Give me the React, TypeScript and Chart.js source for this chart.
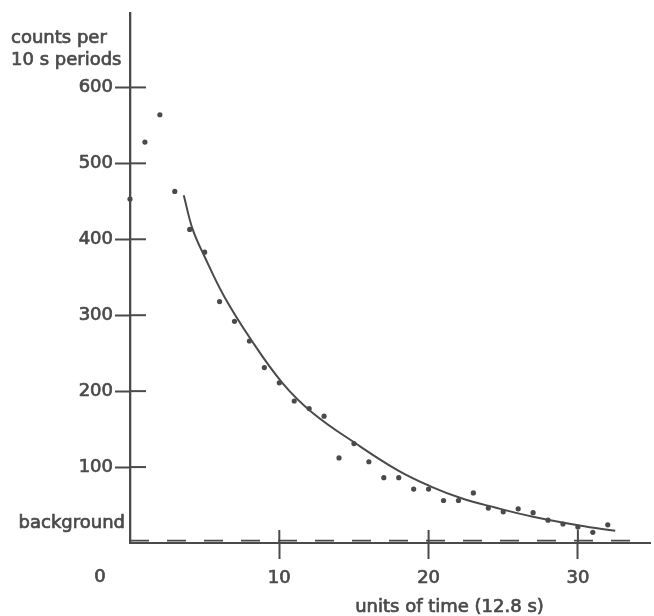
import React, { useEffect, useRef } from "react";
import { Chart, registerables } from "chart.js";

Chart.register(...registerables);

// ---- data ----
const timeUnits = [
  0, 1, 2, 3, 4, 5, 6, 7, 8, 9, 10, 11, 12, 13, 14, 15, 16, 17, 18, 19, 20,
  21, 22, 23, 24, 25, 26, 27, 28, 29, 30, 31, 32,
];
const counts = [
  453, 528, 564, 463, 413, 383, 318, 292, 266, 231, 211, 187, 177, 167, 112,
  131, 107, 86, 86, 71, 71, 56, 56, 66, 46, 41, 45, 40, 30, 25, 21, 14, 24,
];
const fitTime = [3.6, 4.2, 5, 6.3, 8.1, 10.2, 12.2, 15.2, 18, 20.2, 22.2, 24.4, 27, 30.1, 32.5];
const fitCounts = [458, 413, 377, 325, 268, 211, 172, 130, 95, 74, 59, 47, 34.5, 23, 16];
const backgroundTime = [0, 33.9];
const backgroundLevel = [3, 3];
const yTickValues = [100, 200, 300, 400, 500, 600];
const xTickValues = [10, 20, 30];
const yTitleLines = ["counts per", "10 s periods"];
const xTitle = "units of time (12.8 s)";
const backgroundLabel = "background";
const originLabel = "0";

const INK = "#4a4a4a";
const FONT = "'DejaVu Sans', sans-serif";
const TEXT_STROKE = 0.7;

const overlayPlugin = {
  id: "overlay",
  afterDraw(chart: any) {
    const { ctx, chartArea, scales } = chart;
    const xs = scales.x;
    const ys = scales.y;
    ctx.save();
    ctx.strokeStyle = INK;
    ctx.lineWidth = 2;
    // inner halves of crossing tick marks
    yTickValues.forEach((v) => {
      const py = ys.getPixelForValue(v);
      ctx.beginPath();
      ctx.moveTo(chartArea.left, py);
      ctx.lineTo(chartArea.left + 16, py);
      ctx.stroke();
    });
    xTickValues.forEach((v) => {
      const px = xs.getPixelForValue(v);
      ctx.beginPath();
      ctx.moveTo(px, chartArea.bottom);
      ctx.lineTo(px, chartArea.bottom - 13);
      ctx.stroke();
    });
    // texts
    ctx.fillStyle = INK;
    ctx.lineWidth = TEXT_STROKE;
    ctx.font = `18px ${FONT}`;
    const put = (t: string, x: number, y: number) => {
      ctx.fillText(t, x, y);
      ctx.strokeText(t, x, y);
    };
    ctx.textAlign = "left";
    ctx.textBaseline = "alphabetic";
    put(yTitleLines[0], 11, 43);
    put(yTitleLines[1], 11, 65);
    ctx.textAlign = "right";
    put(backgroundLabel, chartArea.left - 5, ys.getPixelForValue(backgroundLevel[0]) - 13);
    ctx.textAlign = "center";
    ctx.textBaseline = "middle";
    put(originLabel, xs.getPixelForValue(0) - 30, chartArea.bottom + 34);
    put(xTitle, xs.getPixelForValue(21.4), chartArea.bottom + 64);
    ctx.restore();
  },
};

export default function App() {
  const canvasRef = useRef<HTMLCanvasElement | null>(null);

  useEffect(() => {
    document.body.style.margin = "0";
    const canvas = canvasRef.current;
    if (!canvas) return;
    Chart.defaults.font.family = FONT;
    Chart.defaults.font.size = 18;
    Chart.defaults.color = INK;

    const chart = new Chart(canvas, {
      type: "scatter",
      data: {
        datasets: [
          {
            label: "counts",
            data: timeUnits.map((t, i) => ({ x: t, y: counts[i] })),
            pointRadius: 2.6,
            pointBackgroundColor: INK,
            pointBorderWidth: 0,
            showLine: false,
            clip: false as any,
          },
          {
            label: "fit",
            data: fitTime.map((t, i) => ({ x: t, y: fitCounts[i] })),
            showLine: true,
            borderColor: INK,
            borderWidth: 2,
            pointRadius: 0,
            tension: 0.4,
            clip: false as any,
          },
          {
            label: "background",
            data: backgroundTime.map((t, i) => ({ x: t, y: backgroundLevel[i] })),
            showLine: true,
            borderColor: INK,
            borderWidth: 1.8,
            borderDash: [19, 18],
            pointRadius: 0,
            clip: false as any,
          },
        ],
      },
      options: {
        animation: false,
        responsive: false,
        layout: { padding: { top: 13, left: 0, right: 0, bottom: 0 } },
        plugins: {
          legend: { display: false },
          tooltip: { enabled: false },
          title: { display: false },
        },
        scales: {
          x: {
            type: "linear",
            min: 0,
            max: 34.83,
            afterBuildTicks: (scale: any) => {
              scale.ticks = xTickValues.map((v) => ({ value: v }));
            },
            afterFit: (scale: any) => {
              scale.height = 73;
            },
            grid: {
              display: true,
              drawOnChartArea: false,
              drawTicks: true,
              tickLength: 16,
              tickWidth: 2,
              tickColor: INK,
              color: INK,
            },
            border: { display: true, color: INK, width: 2 },
            ticks: {
              color: INK,
              font: { size: 18, family: FONT },
              padding: 9,
              maxRotation: 0,
              textStrokeColor: INK,
              textStrokeWidth: TEXT_STROKE,
              callback: (v: any) => String(v),
            },
          },
          y: {
            type: "linear",
            min: 0,
            max: 698,
            afterBuildTicks: (scale: any) => {
              scale.ticks = yTickValues.map((v) => ({ value: v }));
            },
            afterFit: (scale: any) => {
              scale.width = 130;
            },
            grid: {
              display: true,
              drawOnChartArea: false,
              drawTicks: true,
              tickLength: 15,
              tickWidth: 2,
              tickColor: INK,
              color: INK,
            },
            border: { display: true, color: INK, width: 2.3 },
            ticks: {
              color: INK,
              font: { size: 18, family: FONT },
              padding: 2,
              textStrokeColor: INK,
              textStrokeWidth: TEXT_STROKE,
              callback: (v: any) => String(v),
            },
          },
        },
      },
      plugins: [overlayPlugin],
    } as any);

    return () => chart.destroy();
  }, []);

  return (
    <div style={{ position: "absolute", left: 0, top: 0, width: 654, height: 616 }}>
      <canvas ref={canvasRef} width={654} height={616} />
    </div>
  );
}
